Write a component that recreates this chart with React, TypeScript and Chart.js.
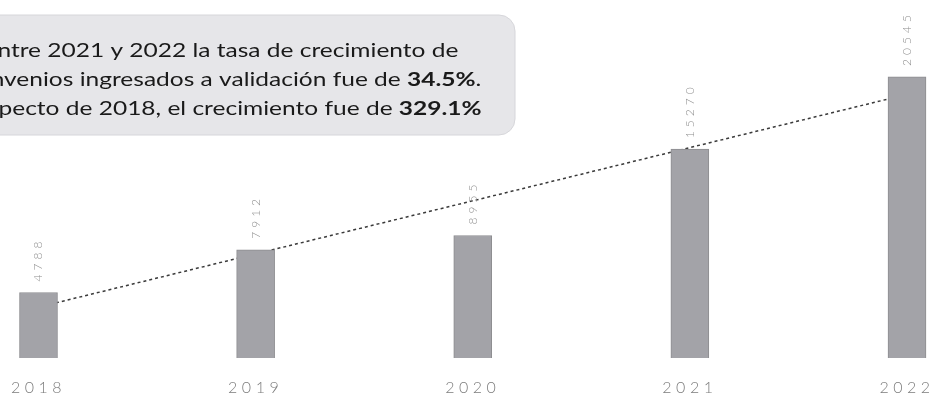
import React, { useEffect, useRef } from "react";
import { Chart, registerables } from "chart.js";

Chart.register(...registerables);

const years = ["2018", "2019", "2020", "2021", "2022"];
const convenios = [4788, 7912, 8955, 15270, 20545];
const trend = [3720, 7610, 11490, 15380, 19270];

const noteLines: { t: string; b: boolean }[][] = [
  [{ t: "Entre 2021 y 2022 la tasa de crecimiento de", b: false }],
  [
    { t: "Convenios ingresados a validación fue de ", b: false },
    { t: "34.5%", b: true },
    { t: ".", b: false },
  ],
  [
    { t: "Respecto de 2018, el crecimiento fue de ", b: false },
    { t: "329.1%", b: true },
  ],
];

const FONT = "Lato, 'Open Sans', sans-serif";

const notePlugin = {
  id: "notePlugin",
  beforeDraw(chart: any) {
    const ctx = chart.ctx as CanvasRenderingContext2D;
    ctx.save();
    const x0 = -65, y0 = 15, w = 580, h = 120, r = 16;
    ctx.beginPath();
    ctx.roundRect(x0, y0, w, h, r);
    ctx.fillStyle = "#e6e6e9";
    ctx.fill();
    ctx.strokeStyle = "#d6d6da";
    ctx.lineWidth = 1;
    ctx.stroke();
    ctx.fillStyle = "#1a1a1a";
    ctx.textBaseline = "alphabetic";
    ctx.textAlign = "left";
    const cx = 221;
    const sx = 1.29;
    const baselines = [57, 86, 115];
    noteLines.forEach((segs, i) => {
      let total = 0;
      segs.forEach((s) => {
        ctx.font = `${s.b ? "bold" : "normal"} 19px ${FONT}`;
        total += ctx.measureText(s.t).width;
      });
      ctx.save();
      ctx.translate(cx, 0);
      ctx.scale(sx, 1);
      let x = -total / 2;
      segs.forEach((s) => {
        ctx.font = `${s.b ? "bold" : "normal"} 19px ${FONT}`;
        ctx.fillText(s.t, x, baselines[i]);
        x += ctx.measureText(s.t).width;
      });
      ctx.restore();
    });
    ctx.restore();
    (ctx as any).letterSpacing = "4.5px";
  },
  beforeDatasetsDraw(chart: any) {
    (chart.ctx as any).letterSpacing = "0px";
  },
  afterDatasetsDraw(chart: any) {
    const ctx = chart.ctx as CanvasRenderingContext2D;
    const idx = chart.data.datasets.findIndex((d: any) => d.type === "bar");
    const meta = chart.getDatasetMeta(idx);
    ctx.save();
    (ctx as any).letterSpacing = "4px";
    ctx.font = `300 12px ${FONT}`;
    ctx.fillStyle = "#8e8e8e";
    ctx.textAlign = "left";
    ctx.textBaseline = "middle";
    meta.data.forEach((el: any, i: number) => {
      ctx.save();
      ctx.translate(el.x, el.y - 11);
      ctx.rotate(-Math.PI / 2);
      ctx.fillText(String(chart.data.datasets[idx].data[i]), 0, 0);
      ctx.restore();
    });
    (ctx as any).letterSpacing = "0px";
    ctx.restore();
  },
  afterDraw(chart: any) {
    (chart.ctx as any).letterSpacing = "0px";
  },
};

export default function App() {
  const ref = useRef<HTMLCanvasElement>(null);
  useEffect(() => {
    if (!ref.current) return;
    const chart = new Chart(ref.current, {
      type: "bar",
      data: {
        labels: years,
        datasets: [
          {
            type: "line",
            label: "Tendencia",
            data: trend,
            borderColor: "#3a3a3a",
            borderWidth: 1.5,
            borderDash: [3, 3],
            pointRadius: 0,
            fill: false,
            order: 2,
          } as any,
          {
            type: "bar",
            label: "Convenios",
            data: convenios,
            backgroundColor: "#a3a3a8",
            borderColor: "#8d8d90",
            borderWidth: 1,
            barThickness: 38,
            clip: false,
            order: 1,
          } as any,
        ],
      },
      options: {
        responsive: false,
        animation: false,
        layout: { padding: { left: 38.5, right: 26, top: 16, bottom: 0 } },
        plugins: {
          legend: { display: false },
          tooltip: { enabled: false },
        },
        scales: {
          x: {
            offset: false,
            grid: { display: false, drawTicks: false },
            border: { display: false },
            afterFit: (scale: any) => {
              scale.height = 42;
              scale.paddingLeft = 0;
              scale.paddingRight = 0;
            },
            ticks: {
              padding: 20,
              color: "#7c7c7c",
              font: { family: FONT, size: 16, weight: 300 as any },
              maxRotation: 0,
              autoSkip: false,
            },
          },
          y: { display: false, min: 0, max: 25000 },
        },
      },
      plugins: [notePlugin],
    });
    return () => chart.destroy();
  }, []);
  return (
    <div style={{ position: "absolute", left: 0, top: 0, width: 933, height: 400, background: "#fff" }}>
      <canvas ref={ref} width={933} height={400} style={{ display: "block" }} />
    </div>
  );
}
